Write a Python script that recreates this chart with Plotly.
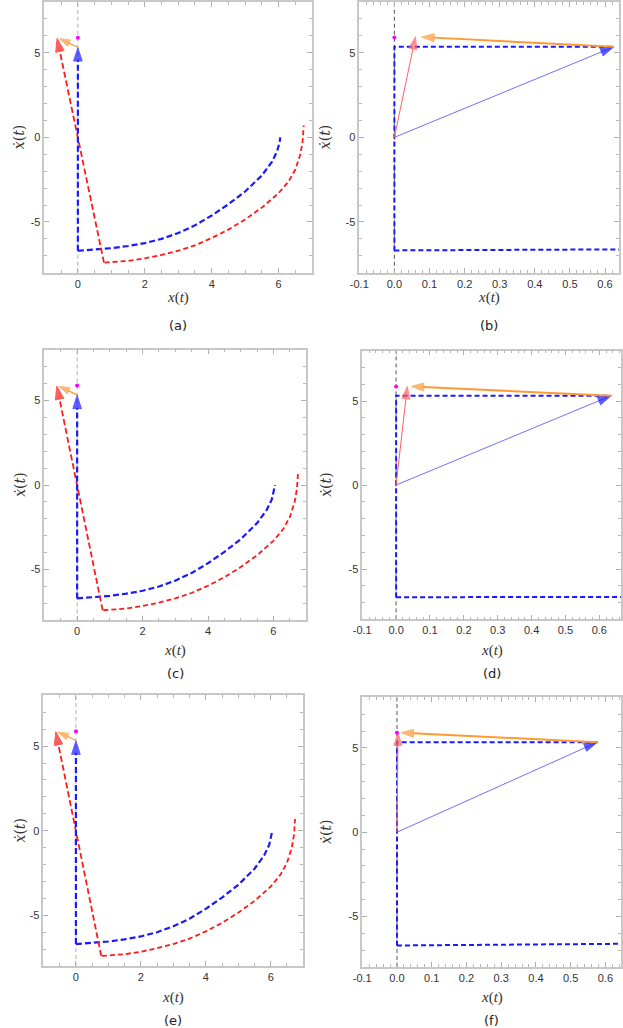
import plotly.graph_objects as go

# ---- left panels (a), (c), (e): full phase portrait ----
blue_curve_x = [0, 0.5, 1, 1.5, 2, 2.5, 3, 3.5, 4, 4.5, 5, 5.5, 5.8, 5.95, 6.03, 6.05]
blue_curve_y = [-6.7, -6.63, -6.55, -6.42, -6.25, -6.0, -5.65, -5.2, -4.62, -3.95, -3.2, -2.25, -1.45, -0.85, -0.3, 0.0]
red_curve_x = [0.8, 1, 1.5, 2, 2.5, 3, 3.5, 4, 4.5, 5, 5.5, 6, 6.3, 6.5, 6.65, 6.72, 6.75]
red_curve_y = [-7.4, -7.38, -7.3, -7.15, -6.95, -6.7, -6.38, -5.95, -5.45, -4.85, -4.15, -3.3, -2.6, -1.9, -1.0, -0.2, 0.7]
red_arrow_x = [0.78, -0.62]
red_arrow_y = [-7.4, 5.85]
blue_arrow_x = [0, 0]
blue_arrow_y = [-6.7, 5.3]
orange_arrow_x = [0, -0.55]
orange_arrow_y = [5.33, 5.83]
dot_left = (0, 5.88)

# ---- right panels (b), (d), (f): zoom near x = 0 ----
tip_blue_x = [0.625, 0.635, 0.577]
tip_blue_y = [5.35, 5.32, 5.34]
tip_red_x = [0.06, 0.033, 0.003]
tip_red_y = [5.95, 5.87, 5.88]
orange_end_x = [0.078, 0.045, 0.012]
orange_end_y = [5.93, 5.87, 5.9]
bottom_start_y = [-6.68, -6.68, -6.72]
bottom_end_x = [0.645, 0.665, 0.65]
bottom_end_y = [-6.62, -6.66, -6.62]
dot_right_y = [5.9, 5.87, 5.9]
right_xmax = [0.64, 0.664, 0.645]

left_xticks = [0, 2, 4, 6]
right_xticks = [-0.1, 0.0, 0.1, 0.2, 0.3, 0.4, 0.5, 0.6]
yticks = [-5, 0, 5]
captions = ["(a)", "(b)", "(c)", "(d)", "(e)", "(f)"]

W, H = 623, 1028
# plot boxes in pixels: left, right, top, bottom
boxes = [(36, 308, 1, 272), (356, 620, 1, 272),
         (36, 302, 349, 620), (359, 622, 350, 619),
         (35, 299, 695, 966), (359, 622, 697, 967)]
xlabel_y = [297, 297, 650, 650, 997, 997]
caption_y = [325, 325, 673, 673, 1020, 1020]

BLUE = "#1a1aff"
RED = "#ff1a1a"
ORANGE = "#ff9933"

fig = go.Figure()


def line(i, xs, ys, color, width, dash=None, head=0, opacity=1):
    sfx = "" if i == 1 else str(i)
    fig.add_trace(go.Scatter(
        x=xs, y=ys, xaxis="x" + sfx, yaxis="y" + sfx,
        mode="lines+markers" if head else "lines",
        line=dict(color=color, width=width, dash=dash),
        marker=dict(symbol="arrow", angleref="previous",
                    size=[0] * (len(xs) - 1) + [head], color=color,
                    line=dict(width=1, color=color)),
        opacity=opacity, showlegend=False, hoverinfo="skip"))


for k, i in enumerate([1, 3, 5]):
    line(i, [0, 0], [-8, 8], "#b0b0b0", 1, "4px,3px")
    line(i, blue_curve_x, blue_curve_y, BLUE, 2.2, "6px,3px")
    line(i, red_curve_x, red_curve_y, RED, 1.8, "5px,3px")
    line(i, red_arrow_x, red_arrow_y, RED, 1.8, "6px,3px", head=14)
    line(i, blue_arrow_x, blue_arrow_y, BLUE, 2.2, "6px,3px", head=14)
    line(i, orange_arrow_x, orange_arrow_y, ORANGE, 1.2, None, head=11)
    sfx = "" if i == 1 else str(i)
    fig.add_trace(go.Scatter(x=[dot_left[0]], y=[dot_left[1]], xaxis="x" + sfx, yaxis="y" + sfx,
                             mode="markers", marker=dict(color="#ff00ff", size=4),
                             showlegend=False, hoverinfo="skip"))

for k, i in enumerate([2, 4, 6]):
    sfx = str(i)
    line(i, [0, 0], [-8, 8], "#555555", 1, "4px,3px")
    line(i, [0, 0, tip_blue_x[k]], [bottom_start_y[k], tip_blue_y[k], tip_blue_y[k]], BLUE, 2, "5px,3px")
    line(i, [0, bottom_end_x[k]], [bottom_start_y[k], bottom_end_y[k]], BLUE, 2, "5px,3px")
    line(i, [0, tip_blue_x[k]], [0, tip_blue_y[k]], "#7070ff", 1, None)
    line(i, [tip_blue_x[k] - 0.03, tip_blue_x[k]], [tip_blue_y[k] - 0.26, tip_blue_y[k]], BLUE, 0, None, head=14)
    line(i, [0, tip_red_x[k]], [0, tip_red_y[k]], "#ff6060", 1, None, head=13)
    line(i, [tip_blue_x[k], orange_end_x[k]], [tip_blue_y[k], orange_end_y[k]], ORANGE, 2, None, head=13)
    fig.add_trace(go.Scatter(x=[0], y=[dot_right_y[k]], xaxis="x" + sfx, yaxis="y" + sfx,
                             mode="markers", marker=dict(color="#ff00ff", size=4),
                             showlegend=False, hoverinfo="skip"))

tickfont = dict(family="Liberation Sans, Arial", size=11, color="#333333")
axis_common = dict(showgrid=False, zeroline=False, showline=True, linecolor="#c8c8c8",
                   linewidth=1.5, mirror="ticks", ticks="inside", ticklen=5,
                   tickcolor="#b0b0b0", tickfont=tickfont)

annotations = []
for n, (l, r, t, b) in enumerate(boxes):
    i = n + 1
    sfx = "" if i == 1 else str(i)
    left = (n % 2 == 0)
    if left:
        xa = dict(range=[-1, 7], tickmode="array", tickvals=left_xticks,
                  ticktext=[str(v) for v in left_xticks],
                  minor=dict(tickmode="linear", tick0=0, dtick=0.5, ticks="inside",
                             ticklen=3, tickcolor="#b8b8b8"))
    else:
        xa = dict(range=[-0.1, right_xmax[n // 2]], tickmode="array", tickvals=right_xticks,
                  ticktext=["%.1f" % v for v in right_xticks],
                  minor=dict(tickmode="linear", tick0=0, dtick=0.02, ticks="inside",
                             ticklen=3, tickcolor="#b8b8b8"))
    xa.update(axis_common)
    xa.update(domain=[l / W, r / W], anchor="y" + sfx)
    ya = dict(range=[-8, 8], tickmode="array", tickvals=yticks,
              ticktext=[str(v) for v in yticks],
              minor=dict(tickmode="linear", tick0=0, dtick=1, ticks="inside",
                         ticklen=3, tickcolor="#b8b8b8"))
    ya.update(axis_common)
    ya.update(domain=[1 - b / H, 1 - t / H], anchor="x" + sfx)
    fig.layout["xaxis" + sfx] = xa
    fig.layout["yaxis" + sfx] = ya

    cx = (l + r) / 2 / W
    annotations.append(dict(x=cx, y=1 - xlabel_y[n] / H, xref="paper", yref="paper",
                            xanchor="center", yanchor="middle",
                            text="<i>x</i>(<i>t</i>)", showarrow=False,
                            font=dict(family="Liberation Serif, DejaVu Serif", size=15, color="#333333")))
    annotations.append(dict(x=cx, y=1 - caption_y[n] / H, xref="paper", yref="paper",
                            xanchor="center", yanchor="middle",
                            text=captions[n], showarrow=False,
                            font=dict(family="DejaVu Sans", size=13, color="#222222")))
    lx = 11 if left else 322
    annotations.append(dict(x=lx / W, y=1 - (t + b) / 2 / H, xref="paper", yref="paper",
                            xanchor="center", yanchor="middle",
                            text="<i>ẋ</i>(<i>t</i>)", showarrow=False, textangle=-90,
                            font=dict(family="DejaVu Serif", size=14, color="#333333")))

fig.update_layout(width=W, height=H, margin=dict(l=0, r=0, t=0, b=0),
                  paper_bgcolor="white", plot_bgcolor="white",
                  annotations=annotations)

fig.write_html("out.html", config={"displayModeBar": False},
               post_script="document.body.style.margin='0px';")
